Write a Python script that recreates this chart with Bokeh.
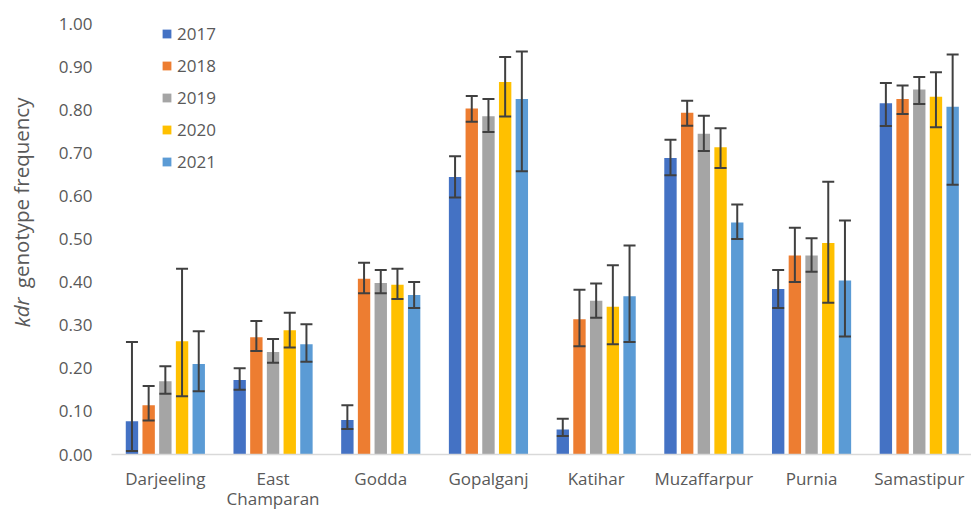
from bokeh.plotting import figure
from bokeh.layouts import row
from bokeh.models import (ColumnDataSource, Range1d, FixedTicker, NumeralTickFormatter,
                          Whisker, TeeHead, Legend, LegendItem)
from bokeh.core.properties import value
from bokeh.embed import file_html
from bokeh.resources import INLINE

categories = ["Darjeeling", "East Champaran", "Godda", "Gopalganj", "Katihar",
              "Muzaffarpur", "Purnia", "Samastipur"]
tick_labels = ["Darjeeling", "East\nChamparan", "Godda", "Gopalganj", "Katihar",
               "Muzaffarpur", "Purnia", "Samastipur"]
years = ["2017", "2018", "2019", "2020", "2021"]
colors = ["#4472C4", "#ED7D31", "#A5A5A5", "#FFC000", "#5B9BD5"]

v2017 = [0.077, 0.173, 0.080, 0.644, 0.058, 0.688, 0.384, 0.815]
v2018 = [0.114, 0.272, 0.408, 0.803, 0.314, 0.793, 0.462, 0.825]
v2019 = [0.170, 0.238, 0.398, 0.785, 0.357, 0.744, 0.462, 0.847]
v2020 = [0.263, 0.288, 0.394, 0.864, 0.343, 0.713, 0.491, 0.830]
v2021 = [0.210, 0.256, 0.370, 0.825, 0.367, 0.538, 0.404, 0.807]

lo2017 = [0.008, 0.150, 0.059, 0.596, 0.043, 0.648, 0.340, 0.762]
lo2018 = [0.079, 0.240, 0.374, 0.772, 0.251, 0.763, 0.400, 0.790]
lo2019 = [0.141, 0.213, 0.374, 0.748, 0.317, 0.704, 0.424, 0.813]
lo2020 = [0.135, 0.248, 0.361, 0.784, 0.256, 0.665, 0.352, 0.759]
lo2021 = [0.147, 0.215, 0.340, 0.657, 0.261, 0.500, 0.274, 0.626]

hi2017 = [0.261, 0.200, 0.114, 0.692, 0.083, 0.730, 0.428, 0.862]
hi2018 = [0.159, 0.310, 0.445, 0.832, 0.382, 0.821, 0.526, 0.856]
hi2019 = [0.205, 0.268, 0.428, 0.825, 0.397, 0.786, 0.502, 0.876]
hi2020 = [0.431, 0.329, 0.431, 0.922, 0.439, 0.757, 0.633, 0.887]
hi2021 = [0.286, 0.302, 0.400, 0.935, 0.485, 0.580, 0.543, 0.928]

y_ticks = [0.0, 0.1, 0.2, 0.3, 0.4, 0.5, 0.6, 0.7, 0.8, 0.9, 1.0]
y_title_parts = ["kdr", "genotype frequency"]
y_title_styles = ["italic", "normal"]

values = [v2017, v2018, v2019, v2020, v2021]
lows = [lo2017, lo2018, lo2019, lo2020, lo2021]
highs = [hi2017, hi2018, hi2019, hi2020, hi2021]

TEXT = "#595959"
FONT = "Open Sans"
LEFT_W = 45

yr = Range1d(0, 1.0)

# narrow panel on the left holding the y-axis title (italic "kdr" + normal text)
pl = figure(width=LEFT_W, height=513, output_backend="svg", toolbar_location=None,
            x_range=Range1d(0, LEFT_W), y_range=yr, x_axis_type=None, y_axis_type=None,
            min_border_left=0, min_border_right=0, min_border_top=23, min_border_bottom=58)
pl.outline_line_color = None
pl.xgrid.visible = False
pl.ygrid.visible = False
ysrc = ColumnDataSource(dict(x=[21, 21], y=[0.295, 0.386], text=y_title_parts,
                             style=y_title_styles))
pl.text(x="x", y="y", text="text", source=ysrc, angle=1.5708, text_align="left",
        text_baseline="alphabetic", text_font=value(FONT), text_font_style="style",
        text_font_size="20.5px", text_color=TEXT)

p = figure(width=971 - LEFT_W, height=513, output_backend="svg", toolbar_location=None,
           x_range=Range1d(0, 7.985), y_range=yr,
           min_border_left=111 - LEFT_W, min_border_right=0, min_border_top=23,
           min_border_bottom=58)
p.outline_line_color = None
p.xgrid.visible = False
p.ygrid.visible = False

centers = [i + 0.5 for i in range(len(categories))]
step = 0.155
bw = 0.115

items = []
for j, yr_lab in enumerate(years):
    xs = [c + (j - 2) * step for c in centers]
    src = ColumnDataSource(dict(x=xs, top=values[j], lower=lows[j], upper=highs[j]))
    r = p.vbar(x="x", top="top", bottom=0, width=bw, source=src,
               fill_color=colors[j], line_color=None)
    items.append(LegendItem(label=yr_lab, renderers=[r]))
    w = Whisker(base="x", lower="lower", upper="upper", source=src, dimension="height",
                line_color="#404040", line_width=2, level="annotation",
                upper_head=TeeHead(size=12, line_color="#404040", line_width=2),
                lower_head=TeeHead(size=12, line_color="#404040", line_width=2))
    p.add_layout(w)

# axes
p.xaxis.ticker = FixedTicker(ticks=centers)
p.xaxis.major_label_overrides = {c: t for c, t in zip(centers, tick_labels)}
p.xaxis.major_tick_line_color = None
p.xaxis.major_tick_out = 0
p.xaxis.minor_tick_line_color = None
p.xaxis.minor_tick_out = 0
p.xaxis.axis_line_color = "#D9D9D9"
p.xaxis.axis_line_width = 1.5
p.xaxis.major_label_text_font = FONT
p.xaxis.major_label_text_font_size = "17px"
p.xaxis.major_label_text_color = TEXT
p.xaxis.major_label_text_line_height = 0.9
p.xaxis.major_label_standoff = 12

p.yaxis.ticker = FixedTicker(ticks=y_ticks)
p.yaxis.formatter = NumeralTickFormatter(format="0.00")
p.yaxis.axis_line_color = None
p.yaxis.major_tick_line_color = None
p.yaxis.major_tick_out = 0
p.yaxis.minor_tick_line_color = None
p.yaxis.minor_tick_out = 0
p.yaxis.major_label_text_font = FONT
p.yaxis.major_label_text_font_size = "17px"
p.yaxis.major_label_text_color = TEXT
p.yaxis.major_label_standoff = 19

legend = Legend(items=items, location=(50, 281), orientation="vertical",
                label_text_font=FONT, label_text_font_size="17px", label_text_color=TEXT,
                glyph_width=11, glyph_height=11, label_height=20, spacing=9,
                padding=0, margin=0, label_standoff=5,
                background_fill_alpha=0, border_line_color=None)
p.add_layout(legend)

layout = row(pl, p, spacing=0)
open("out.html", "w").write(file_html(layout, INLINE))
